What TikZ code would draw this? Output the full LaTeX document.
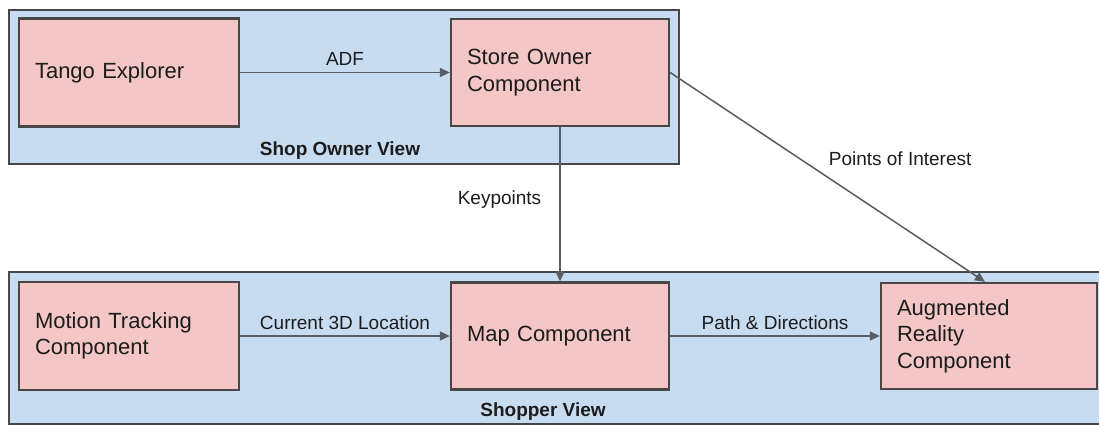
\documentclass[tikz,border=0pt]{standalone}
\usepackage{fontspec}
\setmainfont{Liberation Sans}
\usetikzlibrary{arrows.meta}
\definecolor{boxfill}{HTML}{F4C6C6}
\definecolor{contfill}{HTML}{C8DCF1}
\definecolor{bordercol}{HTML}{474747}
\definecolor{arrowcol}{HTML}{595C60}
\definecolor{textcol}{HTML}{1C1C1C}
\begin{document}
\begin{tikzpicture}[x=1pt,y=-1pt,
  container/.style={draw=bordercol, fill=contfill, line width=2.3pt, rectangle, inner sep=0pt},
  comp/.style={draw=bordercol, fill=boxfill, line width=2.3pt, rectangle, inner xsep=16pt, inner ysep=0pt, align=left, text=textcol, font=\fontsize{22}{26.5}\selectfont},
  flow/.style={draw=arrowcol, line width=1.5pt, -{Triangle[length=10pt,width=9pt]}},
  elabel/.style={font=\fontsize{19}{22}\selectfont, text=textcol, inner sep=0pt},
  vlabel/.style={font=\bfseries\fontsize{19}{22}\selectfont, text=textcol, inner sep=0pt}]
\useasboundingbox (0,0) rectangle (1099,425);
\clip (0,0) rectangle (1099,425);
% containers
\node[container, minimum width=670pt, minimum height=154pt] (shopownerview) at (344,87) {};
\node[container, minimum width=1111pt, minimum height=152pt] (shopperview) at (564.5,348) {};
\node[vlabel] (shopownerlabel) at (340,151) {Shop Owner View};
\node[vlabel] (shopperlabel) at (543,412) {Shopper View};
% components
\node[comp, text width=188pt, minimum height=108pt] (tango) at (129,72.5) {Tango Explorer};
\node[comp, text width=186pt, minimum height=107pt] (store) at (560,72.5) {Store Owner\\Component};
\node[comp, text width=188pt, minimum height=108pt] (motion) at (129,336) {Motion Tracking\\Component};
\node[comp, text width=186pt, minimum height=107pt] (map) at (560,336) {Map Component};
\node[comp, text width=184pt, minimum height=106pt] (ar) at (989,336) {Augmented\\Reality\\Component};
% connectors
\draw[flow] (tango) -- node[elabel, anchor=base, yshift=6.5pt] (adflabel) {ADF} (store);
\draw[flow] (motion) -- node[elabel, anchor=base, yshift=6.5pt] (curlabel) {Current 3D Location} (map);
\draw[flow] (map) -- node[elabel, anchor=base, yshift=6.5pt] (pathlabel) {Path \& Directions} (ar);
\draw[flow] (store) -- node[elabel, pos=0.47, anchor=east, xshift=-18pt] (keylabel) {Keypoints} (map);
\draw[flow] (store.east) -- node[elabel, pos=0.4, anchor=west, xshift=32pt, yshift=-2.4pt] (poilabel) {Points of Interest} ([xshift=-4pt]ar.north);
\end{tikzpicture}
\end{document}
